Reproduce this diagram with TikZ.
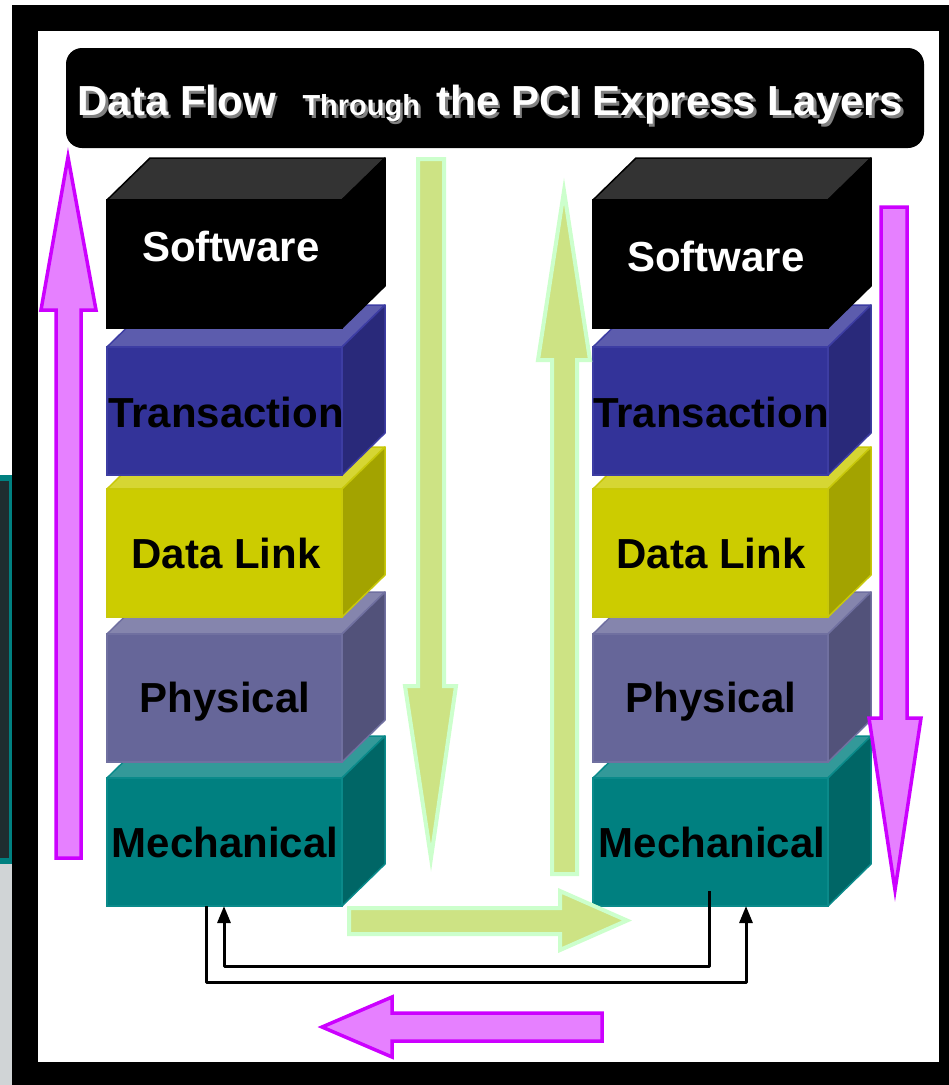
\documentclass[tikz,border=0pt]{standalone}
\usepackage{fontspec}
\setmainfont{Liberation Sans}
\usetikzlibrary{arrows.meta,calc}
\definecolor{gfill}{RGB}{205,227,132}
\definecolor{gedge}{RGB}{204,255,204}
\definecolor{mfill}{RGB}{230,128,255}
\definecolor{medge}{RGB}{204,0,255}
\definecolor{swtop}{RGB}{51,51,51}
\definecolor{trfront}{RGB}{51,51,153}
\definecolor{trtop}{RGB}{92,92,173}
\definecolor{trside}{RGB}{41,41,122}
\definecolor{tredge}{RGB}{61,61,163}
\definecolor{dlfront}{RGB}{204,204,0}
\definecolor{dltop}{RGB}{214,214,51}
\definecolor{dlside}{RGB}{163,163,0}
\definecolor{dledge}{RGB}{200,200,10}
\definecolor{phfront}{RGB}{102,102,153}
\definecolor{phtop}{RGB}{133,133,173}
\definecolor{phside}{RGB}{82,82,122}
\definecolor{phedge}{RGB}{112,112,160}
\definecolor{mefront}{RGB}{0,128,128}
\definecolor{metop}{RGB}{51,153,153}
\definecolor{meside}{RGB}{0,102,102}
\definecolor{meedge}{RGB}{10,138,138}
\definecolor{shadowgray}{RGB}{128,128,128}
\definecolor{stripgray}{RGB}{208,212,214}
\definecolor{stripdark}{RGB}{30,45,48}
% #1 name, #2 x, #3 ytop, #4 front, #5 top, #6 side, #7 edge
\newcommand\pciblock[7]{%
  \filldraw[fill=#5,draw=#7,line width=1.5pt,line join=round] (#2,#3) -- ++(43,-42) -- ++(235,0) -- ++(-43,42) -- cycle;
  \filldraw[fill=#6,draw=#7,line width=1.5pt,line join=round] (#2+235,#3) -- ++(43,-42) -- ++(0,128) -- ++(-43,42) -- cycle;
  \node[fill=#4,draw=#7,line width=1.5pt,minimum width=235pt,minimum height=128pt,inner sep=0pt,outer sep=0pt,anchor=north west] (#1) at (#2,#3) {};
}
\tikzset{
  lbl/.style={anchor=base,inner sep=0pt,outer sep=0pt,font=\fontsize{42pt}{48pt}\selectfont\bfseries},
  ttl/.style={anchor=base west,inner sep=0pt,outer sep=0pt,font=\fontsize{42pt}{48pt}\selectfont\bfseries},
  ttlsmall/.style={anchor=base west,inner sep=0pt,outer sep=0pt,font=\fontsize{29pt}{34pt}\selectfont\bfseries},
  garrow/.style={fill=gfill,draw=gedge,line width=4pt,line join=miter},
  marrow/.style={fill=mfill,draw=medge,line width=3.5pt,line join=miter},
  wire/.style={line width=3pt,line join=round,-{Triangle[width=13pt,length=17pt]}}
}
\begin{document}
\begin{tikzpicture}[x=1pt,y=-1pt]
\useasboundingbox (0,0) rectangle (949,1085);
\fill[white] (0,0) rectangle (949,1085);
% left partial strip
\fill[mefront] (0,475) rectangle (12,864);
\fill[stripdark] (0,481) rectangle (9,858);
\fill[stripgray] (0,864) rectangle (12,1085);
% frame
\fill[black] (12,5) rectangle (949,1085);
\fill[white] (38,31) rectangle (939,1062);
% title
\node[fill=black,rounded corners=16pt,minimum width=858pt,minimum height=100pt,inner sep=0pt] (title) at (495,98) {};
\node[ttl,text=shadowgray] (t1s) at (80,118) {Data Flow};
\node[ttlsmall,text=shadowgray] (t2s) at (305,118) {Through};
\node[ttl,text=shadowgray] (t3s) at (439,118) {the PCI Express Layers};
\node[ttl,text=white] (t1) at (77.5,115.5) {Data Flow};
\node[ttlsmall,text=white] (t2) at (302.5,115.5) {Through};
\node[ttl,text=white] (t3) at (436.5,115.5) {the PCI Express Layers};
% left stack (bottom first)
\pciblock{lmech}{107}{778}{mefront}{metop}{meside}{meedge}
\pciblock{lphys}{107}{634}{phfront}{phtop}{phside}{phedge}
\pciblock{ldl}{107}{489}{dlfront}{dltop}{dlside}{dledge}
\pciblock{ltr}{107}{347}{trfront}{trtop}{trside}{tredge}
\pciblock{lsw}{107}{200}{black}{swtop}{black}{black}
% right stack
\pciblock{rmech}{593}{778}{mefront}{metop}{meside}{meedge}
\pciblock{rphys}{593}{634}{phfront}{phtop}{phside}{phedge}
\pciblock{rdl}{593}{489}{dlfront}{dltop}{dlside}{dledge}
\pciblock{rtr}{593}{347}{trfront}{trtop}{trside}{tredge}
\pciblock{rsw}{593}{200}{black}{swtop}{black}{black}
% labels
\node[lbl,text=white] (lswt) at (231,261) {Software};
\node[lbl] (ltrt) at (226,427) {Transaction};
\node[lbl] (ldlt) at (226,568) {Data Link};
\node[lbl] (lpht) at (225,712) {Physical};
\node[lbl] (lmet) at (225,857) {Mechanical};
\node[lbl,text=white] (rswt) at (716,271) {Software};
\node[lbl] (rtrt) at (711,427) {Transaction};
\node[lbl] (rdlt) at (711,568) {Data Link};
\node[lbl] (rpht) at (711,712) {Physical};
\node[lbl] (rmet) at (712,857) {Mechanical};
% green arrows
\draw[garrow] (418,159) -- (444,159) -- (444,686) -- (456,686) -- (431,858) -- (405,686) -- (418,686) -- cycle;
\draw[garrow] (552,874) -- (552,360) -- (538,360) -- (564,191) -- (590,360) -- (577,360) -- (577,874) -- cycle;
\draw[garrow] (349,908) -- (560,908) -- (560,891) -- (627,920.5) -- (560,950) -- (560,934) -- (349,934) -- cycle;
% magenta arrows
\draw[marrow] (56,858) -- (56,310) -- (41,310) -- (68,157) -- (96,310) -- (81,310) -- (81,858) -- cycle;
\draw[marrow] (881,207) -- (907,207) -- (907,718) -- (921,718) -- (895,890) -- (869,718) -- (881,718) -- cycle;
\draw[marrow] (602,1013) -- (392,1013) -- (392,997) -- (322,1027) -- (392,1057) -- (392,1041) -- (602,1041) -- cycle;
% wires
\coordinate (w1s) at ($(rmech.south west)+(116,-15)$);
\coordinate (w1e) at ($(lmech.south west)+(117,0)$);
\coordinate (w2s) at ($(lmech.south west)+(99,0)$);
\coordinate (w2e) at ($(rmech.south west)+(153,0)$);
\draw[wire] (w1s) -- ++(0,75) -| (w1e);
\draw[wire] (w2s) -- ++(0,76) -| (w2e);
\end{tikzpicture}
\end{document}
